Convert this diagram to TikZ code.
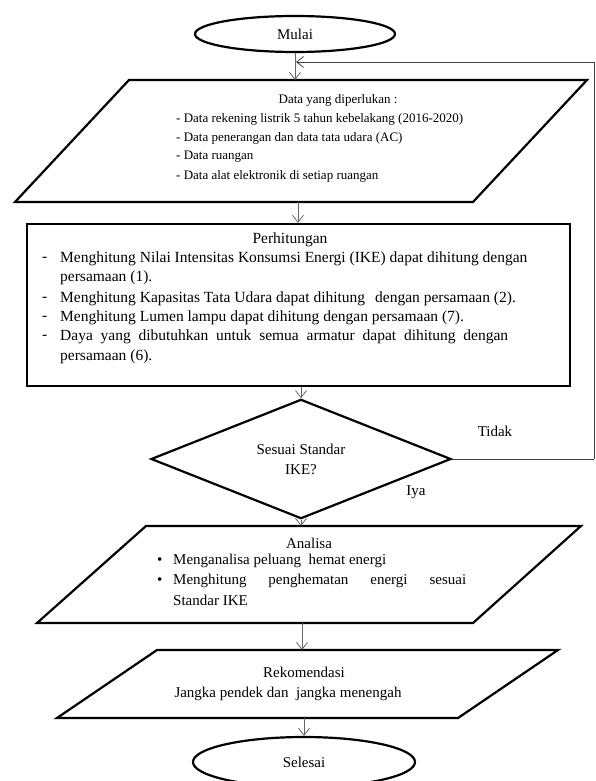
\documentclass[tikz,border=0pt]{standalone}
\usepackage{fontspec}
\setmainfont{Liberation Serif}
\usetikzlibrary{shapes.geometric,arrows.meta}
\begin{document}
\begin{tikzpicture}[x=1pt,y=-1pt,
  shp/.style={draw=black, line width=2.2pt, line join=miter},
  conn/.style={draw=black!60, line width=0.8pt, -{Straight Barb[length=7pt,width=11pt]}},
  fb/.style={draw=black!75, line width=0.8pt},
  t13/.style={inner sep=0pt, font=\fontsize{13}{16}\selectfont},
  t15/.style={inner sep=0pt, font=\fontsize{15}{18}\selectfont},
  t155/.style={inner sep=0pt, font=\fontsize{15.5}{18}\selectfont},
  l13/.style={t13, anchor=west},
  l15/.style={t15, anchor=west},
  l155/.style={t155, anchor=west},
]
\useasboundingbox (0,0) rectangle (595,781);
\fill[white] (0,0) rectangle (595,781);

% Start
\node[shp, ellipse, minimum width=200pt, minimum height=36pt, t15] (mulai) at (295,34) {Mulai};

% Input data parallelogram
\coordinate (p1a) at (129,80);
\coordinate (p1b) at (587,80);
\coordinate (p1c) at (473,202);
\coordinate (p1d) at (15,202);
\draw[shp] (p1a) -- (p1b) -- (p1c) -- (p1d) -- cycle;
\coordinate (p1top) at (295,80);
\coordinate (p1bot) at (298,202);
\node[t13] (p1h) at (338,100) {Data yang diperlukan :};
\node[l13] (p1l1) at (176,119) {- Data rekening listrik 5 tahun kebelakang (2016-2020)};
\node[l13] (p1l2) at (176,138) {- Data penerangan dan data tata udara (AC)};
\node[l13] (p1l3) at (176,157) {- Data ruangan};
\node[l13] (p1l4) at (176,176) {- Data alat elektronik di setiap ruangan};

% Calculation box
\node[shp, rectangle, minimum width=543pt, minimum height=162pt] (calc) at (298.5,305) {};
\node[t155] (calch) at (290,240) {Perhitungan};
\node[l155] (cd1) at (42,259) {-};
\node[l155] (c1) at (60,259) {Menghitung Nilai Intensitas Konsumsi Energi (IKE) dapat dihitung dengan};
\node[l155] (c2) at (60,278) {persamaan (1).};
\node[l155] (cd3) at (42,299) {-};
\node[l155] (c3) at (60,299) {Menghitung Kapasitas Tata Udara dapat dihitung\hspace{10pt}dengan persamaan (2).};
\node[l155] (cd4) at (42,318) {-};
\node[l155] (c4) at (60,318) {Menghitung Lumen lampu dapat dihitung dengan persamaan (7).};
\node[l155] (cd5) at (42,337) {-};
\node[l155] (c5) at (60,337) {\makebox[448pt][s]{Daya yang dibutuhkan untuk semua armatur dapat dihitung dengan}};
\node[l155] (c6) at (60,357) {persamaan (6).};

% Decision
\node[shp, diamond, minimum width=300pt, minimum height=100pt, inner sep=0pt, align=center, font=\fontsize{15}{20}\selectfont] (dec) at (301,459) {Sesuai Standar\\IKE?};
\node[t15] (tidak) at (495,431) {Tidak};
\node[t15] (iya) at (416,492) {Iya};

% Analysis parallelogram
\coordinate (p2a) at (146,526);
\coordinate (p2b) at (581,526);
\coordinate (p2c) at (473,623);
\coordinate (p2d) at (37,623);
\draw[shp] (p2a) -- (p2b) -- (p2c) -- (p2d) -- cycle;
\coordinate (p2top) at (301,526);
\coordinate (p2bot) at (302,623);
\node[t15] (p2h) at (309,543) {Analisa};
\node[l15] (b1) at (157,561) {\textbullet};
\node[l15] (a1) at (173,561) {Menganalisa peluang\ \ hemat energi};
\node[l15] (b2) at (157,581) {\textbullet};
\node[l15] (a2) at (173,581) {\makebox[293pt][s]{Menghitung penghematan energi sesuai}};
\node[l15] (a3) at (173,600) {Standar IKE};

% Recommendation parallelogram
\coordinate (p3a) at (157,650);
\coordinate (p3b) at (558,650);
\coordinate (p3c) at (458,718);
\coordinate (p3d) at (57,718);
\draw[shp] (p3a) -- (p3b) -- (p3c) -- (p3d) -- cycle;
\coordinate (p3top) at (302,650);
\coordinate (p3bot) at (304,718);
\node[t15] (p3h) at (304,672) {Rekomendasi};
\node[t15] (p3l) at (288,694) {Jangka pendek dan\ \ jangka menengah};

% End
\node[shp, ellipse, minimum width=222pt, minimum height=50pt, t15] (selesai) at (304,762) {Selesai};

% Connectors
\draw[conn] (mulai.south -| p1top) -- (p1top);
\draw[conn] (p1bot) -- (p1bot |- calc.north);
\draw[conn] (dec.north |- calc.south) -- (dec.north);
\draw[conn] (dec.south) -- (p2top);
\draw[conn] (p2bot) -- (p3top);
\draw[conn] (p3bot) -- (selesai.north);

% Feedback loop
\coordinate (fb1) at (594,459);
\coordinate (fb2) at (594,62);
\coordinate (fbtip) at (296,62);
\draw[fb] (dec.east) -- (fb1);
\draw[fb, -{Straight Barb[length=7pt,width=11pt]}] (fb1) -- (fb2) -- (fbtip);
\end{tikzpicture}
\end{document}
